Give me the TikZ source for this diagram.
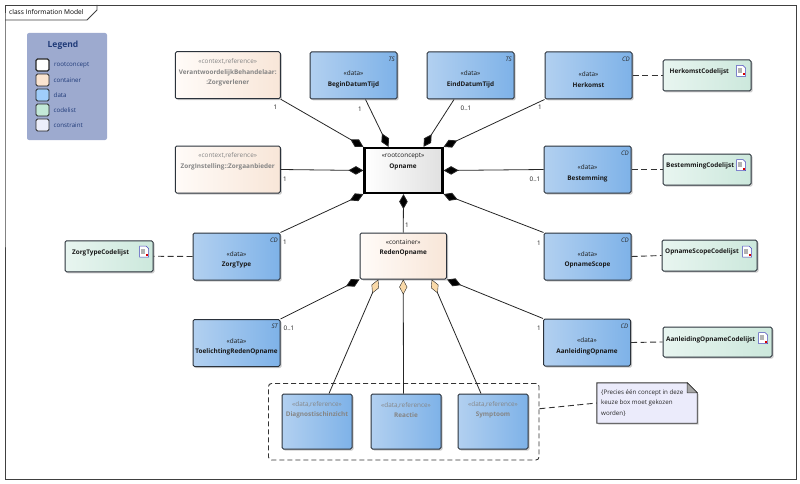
\documentclass[tikz,border=0pt]{standalone}
\usepackage{fontspec}
\setmainfont{Open Sans}
\usetikzlibrary{arrows.meta, shadows, calc}
\definecolor{linecol}{HTML}{2B323B}
\definecolor{navycol}{HTML}{1F3A78}
\definecolor{refgray}{HTML}{858585}
\definecolor{legendcol}{HTML}{9DAACF}
\definecolor{tancol}{HTML}{F9D9A8}
\tikzstyle{shade box} = [draw=linecol, line width=1pt, rounded corners=1.5pt, general shadow={shadow xshift=1.5pt, shadow yshift=-1.5pt, opacity=0.2, fill=black}, inner sep=0pt]
\tikzstyle{databox} = [shade box, left color={rgb,255:red,178;green,208;blue,240}, right color={rgb,255:red,126;green,178;blue,232}, minimum width=87pt, minimum height=47pt]
\tikzstyle{refbox} = [databox, minimum width=70pt, minimum height=55pt]
\tikzstyle{contbox} = [shade box, left color={rgb,255:red,255;green,251;blue,248}, right color={rgb,255:red,248;green,230;blue,216}, minimum width=105pt, minimum height=47pt]
\tikzstyle{codebox} = [shade box, left color={rgb,255:red,232;green,245;blue,240}, right color={rgb,255:red,204;green,232;blue,220}, minimum width=88pt, minimum height=31pt]
\tikzstyle{boxtext} = [align=center, inner sep=0pt, font=\fontsize{6.4}{10.6}\selectfont, text=black!90]
\tikzstyle{greytext} = [boxtext, text=refgray]
\tikzstyle{codetext} = [inner sep=0pt, anchor=west, font=\fontsize{6.4}{8}\selectfont\bfseries, text=black!90]
\tikzstyle{kind} = [inner sep=0pt, anchor=north east, font=\fontsize{6.2}{7}\selectfont\itshape, text=black!85]
\tikzstyle{mult} = [inner sep=0pt, font=\fontsize{6.3}{7}\selectfont, text=black!90]
\tikzstyle{swatch} = [draw=black!85, line width=0.9pt, rounded corners=1.5pt, minimum width=13pt, minimum height=12pt, inner sep=0pt]
\tikzstyle{legtext} = [inner sep=0pt, anchor=west, font=\fontsize{6.2}{7}\selectfont, text=navycol]
\tikzstyle{assoc} = [line width=0.8pt, draw=black!85]
\tikzstyle{blackdia} = [assoc, -{Diamond[length=15pt, width=8.5pt, fill=black]}]
\tikzstyle{tandia} = [assoc, -{Diamond[length=15pt, width=8pt, fill=tancol, line width=0.4pt]}]
\tikzstyle{codeline} = [line width=0.9pt, draw=black!80, dash pattern=on 6pt off 3.5pt]
\newcommand{\docicon}[1]{
        \draw[draw=blue!45!gray, fill=white, line width=0.5pt] ($(#1)+(-4.5,-5.5)$) -- ($(#1)+(2,-5.5)$) -- ($(#1)+(4.5,-3)$) -- ($(#1)+(4.5,5.5)$) -- ($(#1)+(-4.5,5.5)$) -- cycle;
        \fill[gray!60] ($(#1)+(-3,-3)$) rectangle ($(#1)+(1,2)$);
        \fill[red!85!black] ($(#1)+(2,2.5)$) rectangle ($(#1)+(4,4.5)$);
}
\begin{document}
\begin{tikzpicture}[x=1pt, y=-1pt]
        \useasboundingbox (0,0) rectangle (800,484);

        % Frame
        \draw[line width=0.9pt, draw=black!75] (5,20) -- (5,5) -- (796,5) -- (796,479) -- (5,479) -- cycle;
        \draw[line width=0.9pt, draw=black!75] (5,20) -- (87,20) -- (97,10) -- (97,5);
        \node at (9,12.5) [inner sep=0pt, anchor=west, font=\fontsize{6.6}{8}\selectfont] (title) {class Information Model};

        % Legend
        \node at (67,86.5) [fill=legendcol, rounded corners=2pt, minimum width=80pt, minimum height=107pt, inner sep=0pt] (legend) {};
        \node at (63,45.5) [inner sep=0pt, font=\fontsize{8.5}{10}\selectfont\bfseries, text=navycol] (legendtitle) {Legend};
        \node at (42.5,65) [swatch, fill=white, line width=1.3pt] (swroot) {};
        \node at (42.5,80) [swatch, fill={rgb,255:red,250;green,228;blue,208}] (swcont) {};
        \node at (42.5,95) [swatch, fill={rgb,255:red,160;green,205;blue,250}] (swdata) {};
        \node at (42.5,110) [swatch, fill={rgb,255:red,195;green,232;blue,215}] (swcode) {};
        \node at (42.5,125) [swatch, fill={rgb,255:red,236;green,238;blue,250}] (swcons) {};
        \node at (54,65) [legtext] (ltroot) {rootconcept};
        \node at (53.5,80) [legtext] (ltcont) {container};
        \node at (53.5,95) [legtext] (ltdata) {data};
        \node at (53.5,110) [legtext] (ltcode) {codelist};
        \node at (53.5,125) [legtext] (ltcons) {constraint};

        % Context references
        \node at (227.75,75.25) [contbox] (verant) {};
        \node at (227.75,72.5) [greytext] (veranttext) {«context,reference»\\\textbf{VerantwoordelijkBehandelaar:}\\\textbf{:Zorgverlener}};
        \node at (227.75,169.5) [contbox] (zorginst) {};
        \node at (227.75,161.5) [greytext] (zorginsttext) {«context,reference»\\\textbf{ZorgInstelling::Zorgaanbieder}};

        % Data on top
        \node at (353.5,75.5) [databox] (begin) {};
        \node at (353.5,79.5) [boxtext] (begintext) {«data»\\\textbf{BeginDatumTijd}};
        \node at (begin.north east) [kind, xshift=-2.5pt, yshift=-5pt] (beginkind) {TS};
        \node at (470.5,75.5) [databox] (eind) {};
        \node at (470.5,79.5) [boxtext] (eindtext) {«data»\\\textbf{EindDatumTijd}};
        \node at (eind.north east) [kind, xshift=-2.5pt, yshift=-5pt] (eindkind) {TS};
        \node at (588.5,75.5) [databox] (herkomst) {};
        \node at (588.5,79.5) [boxtext] (herkomsttext) {«data»\\\textbf{Herkomst}};
        \node at (herkomst.north east) [kind, xshift=-2.5pt, yshift=-5pt] (herkomstkind) {CD};

        % Opname
        \node at (403.5,170.5) [draw=black, line width=2.2pt, left color=white, right color=black!12, minimum width=78pt, minimum height=45pt, inner sep=0pt] (opname) {};
        \node at (403,161.5) [boxtext] (opnametext) {«rootconcept»\\\textbf{Opname}};

        % Data on the right
        \node at (587.5,169.5) [databox] (bestemming) {};
        \node at (587.5,173.5) [boxtext] (bestemmingtext) {«data»\\\textbf{Bestemming}};
        \node at (bestemming.north east) [kind, xshift=-2.5pt, yshift=-5pt] (bestemmingkind) {CD};
        \node at (587.5,256.5) [databox] (scope) {};
        \node at (587.5,260) [boxtext] (scopetext) {«data»\\\textbf{OpnameScope}};
        \node at (scope.north east) [kind, xshift=-2.5pt, yshift=-5pt] (scopekind) {CD};
        \node at (587,342.5) [databox] (aanleiding) {};
        \node at (587,346.5) [boxtext] (aanleidingtext) {«data»\\\textbf{AanleidingOpname}};
        \node at (aanleiding.north east) [kind, xshift=-2.5pt, yshift=-5pt] (aanleidingkind) {CD};

        % Data on the left
        \node at (236.5,256.5) [databox] (zorgtype) {};
        \node at (236.5,260) [boxtext] (zorgtypetext) {«data»\\\textbf{ZorgType}};
        \node at (zorgtype.north east) [kind, xshift=-2.5pt, yshift=-5pt] (zorgtypekind) {CD};
        \node at (236.5,343) [databox] (toelichting) {};
        \node at (236.5,347) [boxtext] (toelichtingtext) {«data»\\\textbf{ToelichtingRedenOpname}};
        \node at (toelichting.north east) [kind, xshift=-2.5pt, yshift=-5pt] (toelichtingkind) {ST};

        % RedenOpname
        \node at (403.25,256) [contbox, minimum width=86.5pt, minimum height=46pt] (reden) {};
        \node at (403.25,248) [boxtext] (redentext) {«container»\\\textbf{RedenOpname}};

        % Codelists
        \node at (707,75.5) [codebox] (herkomstcode) {};
        \node at (669.5,72) [codetext] (herkomstcodetext) {HerkomstCodelijst};
        \docicon{741,71}
        \node at (707,169.5) [codebox] (bestemmingcode) {};
        \node at (666,166) [codetext] (bestemmingcodetext) {BestemmingCodelijst};
        \docicon{741,165}
        \node at (109,256.25) [codebox] (zorgtypecode) {};
        \node at (72,253) [codetext] (zorgtypecodetext) {ZorgTypeCodelijst};
        \docicon{144,251.5}
        \node at (709.5,255.5) [codebox, minimum width=95pt] (scopecode) {};
        \node at (665,252) [codetext] (scopecodetext) {OpnameScopeCodelijst};
        \docicon{747,251.5}
        \node at (717.5,342) [codebox, minimum width=109pt, minimum height=30pt] (aanleidingcode) {};
        \node at (666,339.5) [codetext] (aanleidingcodetext) {AanleidingOpnameCodelijst};
        \docicon{763,338}

        % Choice box
        \node at (403.75,421.75) [draw=black!80, line width=0.9pt, dash pattern=on 5pt off 3pt, rounded corners=3pt, minimum width=270.5pt, minimum height=76.5pt, inner sep=0pt] (choice) {};
        \node at (317,421.5) [refbox] (diag) {};
        \node at (317,410) [greytext] (diagtext) {«data,reference»\\\textbf{Diagnostischinzicht}};
        \node at (406,421.5) [refbox] (reactie) {};
        \node at (406,410) [greytext] (reactietext) {«data,reference»\\\textbf{Reactie}};
        \node at (493,421.5) [refbox] (symptoom) {};
        \node at (493,410) [greytext] (symptoomtext) {«data,reference»\\\textbf{Symptoom}};

        % Constraint note
        \node at (647,403) [minimum width=100pt, minimum height=40pt, inner sep=0pt] (note) {};
        \draw[line width=0.9pt, draw=black!80, fill={rgb,255:red,235;green,235;blue,251}, general shadow={shadow xshift=1.5pt, shadow yshift=-1.5pt, opacity=0.2, fill=black}] (note.north west) -- ([xshift=-10pt]note.north east) -- ([yshift=-10pt]note.north east) -- (note.south east) -- (note.south west) -- cycle;
        \draw[line width=0.5pt, draw=black!80, fill=black!35] ([xshift=-10pt]note.north east) -- ([xshift=-10pt, yshift=-10pt]note.north east) -- ([yshift=-10pt]note.north east) -- cycle;
        \node at (601,403) [inner sep=0pt, anchor=west, align=left, font=\fontsize{6.2}{10.2}\selectfont, text=black!85] (notetext) {\{Precies één concept in deze\\keuze box moet gekozen\\worden\}};

        % Composition to Opname
        \draw[blackdia] (verant.south east) -- (opname.north west);
        \draw[blackdia] (zorginst.east) -- (opname.west);
        \draw[blackdia] ([xshift=12pt]begin.south) -- ([xshift=-15pt]opname.north);
        \draw[blackdia] ([xshift=-16.5pt]eind.south) -- ([xshift=20pt]opname.north);
        \draw[blackdia] (herkomst.south west) -- (opname.north east);
        \draw[blackdia] (bestemming.west) -- (opname.east);
        \draw[blackdia] (zorgtype.north east) -- (opname.south west);
        \draw[blackdia] (scope.north west) -- (opname.south east);
        \draw[blackdia] (reden.north) -- (opname.south);

        % Composition to RedenOpname
        \draw[blackdia] (toelichting.north east) -- (reden.south west);
        \draw[blackdia] (aanleiding.north west) -- (reden.south east);
        \draw[tandia] ([xshift=12pt]diag.north) -- ([xshift=-25pt]reden.south);
        \draw[tandia] ([xshift=-2.5pt]reactie.north) -- (reden.south);
        \draw[tandia] ([xshift=-12pt]symptoom.north) -- ([xshift=28.5pt]reden.south);

        % Dashed links
        \draw[codeline] (herkomst.east) -- (herkomstcode.west);
        \draw[codeline] (bestemming.east) -- (bestemmingcode.west);
        \draw[codeline] (zorgtype.west) -- (zorgtypecode.east);
        \draw[codeline] (scope.east) -- (scopecode.west);
        \draw[codeline] (aanleiding.east) -- (aanleidingcode.west);
        \draw[codeline] ([yshift=13pt]choice.east) -- (note.west);

        % Multiplicities
        \node at (275.5,107) [mult] (m1) {1};
        \node at (285,179) [mult] (m2) {1};
        \node at (360,109) [mult] (m3) {1};
        \node at (466,108) [mult] (m4) {0..1};
        \node at (540,107) [mult] (m5) {1};
        \node at (535,179) [mult] (m6) {0..1};
        \node at (285,242) [mult] (m7) {1};
        \node at (407,225) [mult] (m8) {1};
        \node at (539,243) [mult] (m9) {1};
        \node at (289,328) [mult] (m10) {0..1};
        \node at (539,328) [mult] (m11) {1};

\end{tikzpicture}
\end{document}
